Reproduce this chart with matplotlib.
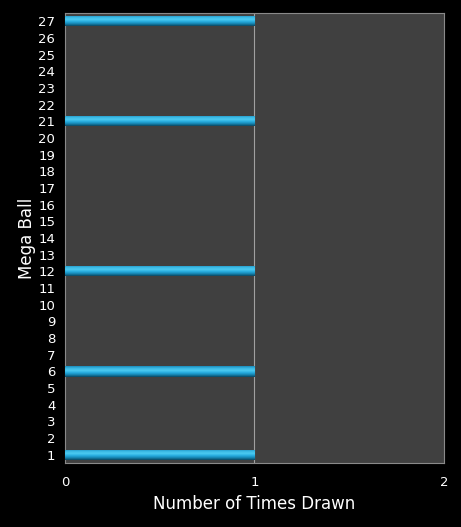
import numpy as np
import matplotlib.pyplot as plt
from matplotlib.colors import LinearSegmentedColormap

# Mega Ball numbers and how often each was drawn
balls = list(range(1, 28))
drawn = [1, 0, 0, 0, 0, 1, 0, 0, 0, 0, 0, 1, 0, 0, 0, 0, 0, 0, 0, 0, 1, 0, 0, 0, 0, 0, 1]
xticks = [0, 1, 2]

fig = plt.figure(figsize=(4.61, 5.27), dpi=100, facecolor='black')
ax = fig.add_axes([0.141, 0.1214, 0.822, 0.854])
ax.set_facecolor('#404040')

bars = ax.barh(balls, drawn, height=0.62, color='#1b9ccb', zorder=3)

# tube-like vertical gradient inside each bar
tube = LinearSegmentedColormap.from_list('tube', ['#0a4660', '#1584b0', '#27ace0', '#4ccaf0', '#3ab8e4', '#1a8cbc'])
grad = np.linspace(0, 1, 64).reshape(-1, 1)
for b in bars:
    if b.get_width() <= 0:
        continue
    x0, y0 = b.get_x(), b.get_y()
    im = ax.imshow(grad, cmap=tube, aspect='auto', origin='lower',
                   extent=[x0, x0 + b.get_width(), y0, y0 + b.get_height()], zorder=4)
    im.set_clip_path(b)

ax.set_xlim(0, 2)
ax.set_ylim(0.5, 27.5)
ax.set_xticks(xticks)
ax.set_yticks(balls)
ax.tick_params(colors='white', labelsize=9.5, length=0, pad=7)
ax.tick_params(axis='x', pad=9)
ax.axvline(1, color='#a0a0a0', lw=0.8, zorder=2)
for s in ax.spines.values():
    s.set_color('#8a8a8a')
    s.set_linewidth(0.8)

ax.set_xlabel('Number of Times Drawn', color='white', fontsize=12, labelpad=5)
ax.set_ylabel('Mega Ball', color='white', fontsize=12, labelpad=2)

fig.savefig('out.png', dpi=100, facecolor='black')
